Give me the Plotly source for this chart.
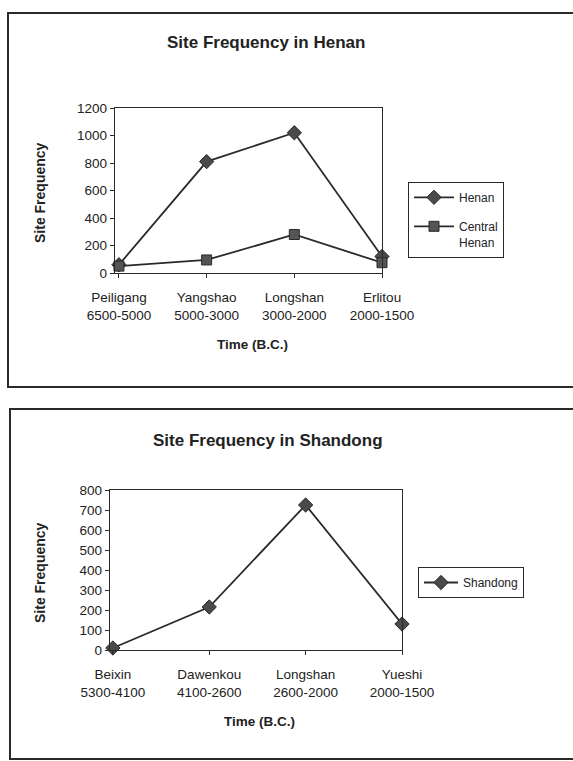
import plotly.graph_objects as go

W, H = 573, 761

henan_cats = ["Peiligang<br>6500-5000", "Yangshao<br>5000-3000", "Longshan<br>3000-2000", "Erlitou<br>2000-1500"]
henan_vals = [60, 810, 1020, 120]
central_henan_vals = [50, 95, 280, 75]
henan_yticks = [0, 200, 400, 600, 800, 1000, 1200]

shandong_cats = ["Beixin<br>5300-4100", "Dawenkou<br>4100-2600", "Longshan<br>2600-2000", "Yueshi<br>2000-1500"]
shandong_vals = [10, 215, 725, 130]
shandong_yticks = [0, 100, 200, 300, 400, 500, 600, 700, 800]

INK = "#2a2a2a"
FONT = "Liberation Sans, Arial, sans-serif"

def px(x):
    return x / W

def py(y):
    return 1 - y / H

fig = go.Figure()

idx = [0, 1, 2, 3]
fig.add_trace(go.Scatter(x=idx, y=henan_vals, mode="lines+markers", name="Henan",
                         line=dict(color=INK, width=1.8),
                         marker=dict(symbol="diamond", size=11, color="#4a4a4a", line=dict(color=INK, width=1)),
                         cliponaxis=False, xaxis="x", yaxis="y", legend="legend", legendgroup="a"))
fig.add_trace(go.Scatter(x=idx, y=central_henan_vals, mode="lines+markers", name="Central<br>Henan",
                         line=dict(color=INK, width=1.8),
                         marker=dict(symbol="square", size=10, color="#555", line=dict(color=INK, width=1)),
                         cliponaxis=False, xaxis="x", yaxis="y", legend="legend", legendgroup="b"))
fig.add_trace(go.Scatter(x=idx, y=shandong_vals, mode="lines+markers", name="Shandong",
                         line=dict(color=INK, width=1.8),
                         marker=dict(symbol="diamond", size=11, color="#4a4a4a", line=dict(color=INK, width=1)),
                         cliponaxis=False, xaxis="x2", yaxis="y2", legend="legend2"))

axis_common = dict(showline=True, linecolor=INK, linewidth=1.4, mirror=True, showgrid=False,
                   zeroline=False, ticks="outside", ticklen=4, tickcolor=INK,
                   tickfont=dict(family=FONT, size=13.5, color="#222"))

fig.update_layout(
    width=W, height=H, margin=dict(l=0, r=0, t=0, b=0, autoexpand=False),
    paper_bgcolor="white", plot_bgcolor="white",
    font=dict(family=FONT, color="#222"),
    xaxis=dict(domain=[px(115), px(382)], range=[-0.045, 3.0], tickvals=idx, ticktext=henan_cats,
               ticklabelstandoff=8, anchor="y", **axis_common),
    yaxis=dict(domain=[py(273), py(108)], range=[0, 1200], tickvals=henan_yticks, anchor="x", **axis_common),
    xaxis2=dict(domain=[px(110), px(402)], range=[-0.03, 3.0], tickvals=idx, ticktext=shandong_cats,
                ticklabelstandoff=8, anchor="y2", **axis_common),
    yaxis2=dict(domain=[py(650), py(490)], range=[0, 800], tickvals=shandong_yticks, anchor="x2", **axis_common),
    legend=dict(x=px(408), y=py(182), xanchor="left", yanchor="top", bordercolor=INK, borderwidth=1,
                bgcolor="white", font=dict(family=FONT, size=12, color="#222"), tracegroupgap=10,
                valign="top", itemwidth=40),
    legend2=dict(x=px(418), y=py(567), xanchor="left", yanchor="top", bordercolor=INK, borderwidth=1,
                 bgcolor="white", font=dict(family=FONT, size=12, color="#222"), itemwidth=34),
    showlegend=True,
)

# Outer frames
fig.add_shape(type="rect", xref="paper", yref="paper", x0=px(8), x1=px(585), y0=py(387), y1=py(13),
              line=dict(color=INK, width=2))
fig.add_shape(type="rect", xref="paper", yref="paper", x0=px(10), x1=px(585), y0=py(759), y1=py(409),
              line=dict(color=INK, width=2))

def ann(text, x, y, size, bold=True, angle=0):
    fig.add_annotation(text=f"<b>{text}</b>" if bold else text, x=px(x), y=py(y), xref="paper", yref="paper",
                       showarrow=False, textangle=angle, xanchor="center", yanchor="middle",
                       font=dict(family=FONT, size=size, color="#222"))

ann("Site Frequency in Henan", 266, 42, 17)
ann("Site Frequency", 40, 193, 14, angle=-90)
ann("Time (B.C.)", 252, 345, 13.5)

ann("Site Frequency in Shandong", 268, 440, 17)
ann("Site Frequency", 40, 573, 14, angle=-90)
ann("Time (B.C.)", 259, 721, 13.5)

fig.write_html("out.html")
